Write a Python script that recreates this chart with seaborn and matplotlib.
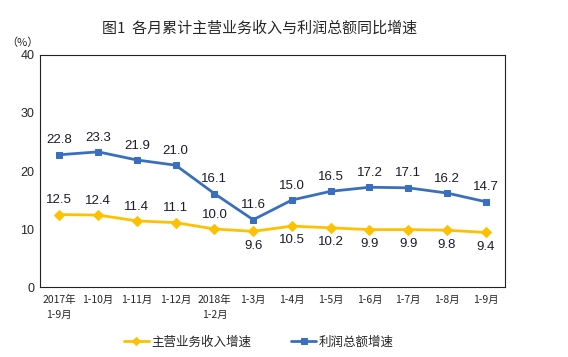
import numpy as np
import pandas as pd
import seaborn as sns
import matplotlib.pyplot as plt

months = ['2017年\n1-9月', '1-10月', '1-11月', '1-12月', '2018年\n1-2月', '1-3月',
          '1-4月', '1-5月', '1-6月', '1-7月', '1-8月', '1-9月']
revenue = [12.5, 12.4, 11.4, 11.1, 10.0, 9.6, 10.5, 10.2, 9.9, 9.9, 9.8, 9.4]
profit = [22.8, 23.3, 21.9, 21.0, 16.1, 11.6, 15.0, 16.5, 17.2, 17.1, 16.2, 14.7]
# label placement: True = above the point
rev_above = [True, True, True, True, True, False, False, False, False, False, False, False]

sns.set_style('white')
plt.rcParams['font.family'] = ['Noto Sans CJK SC', 'DejaVu Sans']

df = pd.DataFrame({'月份': months, '主营业务收入增速': revenue, '利润总额增速': profit})
x = np.arange(len(months))

fig = plt.figure(figsize=(5.68, 3.57), dpi=100)
ax = fig.add_axes([0.0704, 0.196, 0.819, 0.65])

sns.lineplot(x=x, y=df['主营业务收入增速'], ax=ax, color='#FFC000', marker='D',
             markersize=5, markeredgecolor='#FFC000', linewidth=2, label='主营业务收入增速')
sns.lineplot(x=x, y=df['利润总额增速'], ax=ax, color='#3A6FBF', marker='s',
             markersize=5, markeredgecolor='#3A6FBF', linewidth=2, label='利润总额增速')

lbl = dict(textcoords='offset points', ha='center', fontsize=9.5,
           color='#1a1a2e', family='Liberation Sans')
for i, v in enumerate(revenue):
    if rev_above[i]:
        ax.annotate(f'{v:.1f}', (i, v), xytext=(0, 6), va='bottom', **lbl)
    else:
        ax.annotate(f'{v:.1f}', (i, v), xytext=(0, -6), va='top', **lbl)
for i, v in enumerate(profit):
    ax.annotate(f'{v:.1f}', (i, v), xytext=(0, 6), va='bottom', **lbl)

ax.set_xlim(-0.5, len(months) - 0.5)
ax.set_ylim(0, 40)
ax.set_yticks([0, 10, 20, 30, 40])
ax.set_yticklabels(['0', '10', '20', '30', '40'], fontsize=9, family='Liberation Sans')
ax.set_xticks(x)
ax.set_xticklabels(months, fontsize=7.5, linespacing=1.6)
ax.set_xticks(np.arange(-0.5, len(months), 1), minor=True)
ax.tick_params(axis='x', which='major', length=0, pad=6)
ax.tick_params(axis='x', which='minor', length=4, direction='in', color='#333333')
ax.tick_params(axis='y', length=4, direction='in', pad=4, color='#333333')
ax.set_xlabel('')
ax.set_ylabel('')
for s in ax.spines.values():
    s.set_color('#222222')
    s.set_linewidth(0.8)

fig.text(0.04, 0.865, '（%）', fontsize=8, ha='center', va='bottom')
fig.text(0.457, 0.92, '图1  各月累计主营业务收入与利润总额同比增速', fontsize=10.8,
         fontweight='medium', ha='center', va='center')

ax.legend(loc='upper center', bbox_to_anchor=(0.47, -0.16), ncol=2, frameon=False,
          fontsize=9, handlelength=2, columnspacing=3.2, handletextpad=0.2, markerscale=0.8)

fig.savefig('out.png', dpi=100)
